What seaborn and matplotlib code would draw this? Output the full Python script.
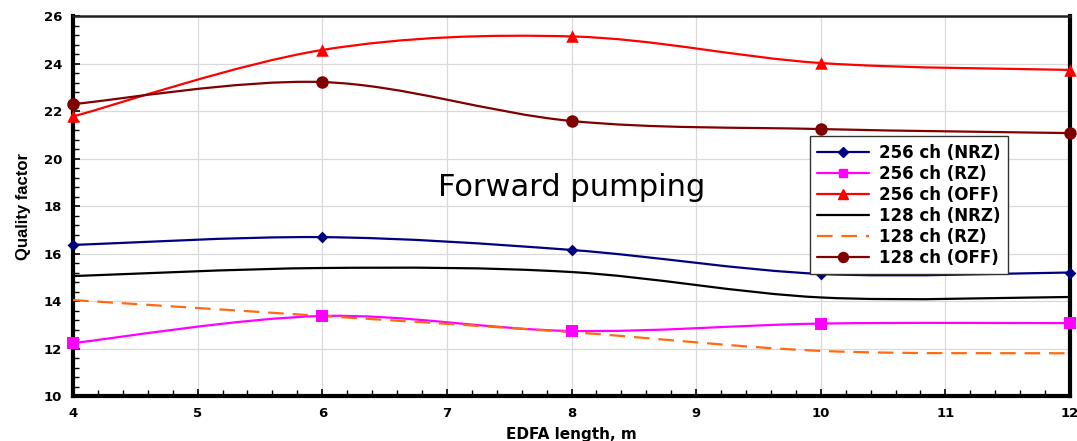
"""
Quality factor vs EDFA length (forward pumping)
Smoothed curves like the original spreadsheet chart
"""

import numpy as np
import matplotlib.pyplot as plt
import seaborn as sns
from matplotlib.path import Path
from matplotlib.patches import PathPatch
from matplotlib.lines import Line2D
from matplotlib.ticker import MultipleLocator

edfa_length = [4, 6, 8, 10, 12]

q_256_nrz = [16.36, 16.69, 16.15, 15.14, 15.2]
q_256_rz = [12.23, 13.37, 12.74, 13.05, 13.07]
q_256_off = [21.77, 24.57, 25.14, 24.02, 23.73]
q_128_nrz = [15.05, 15.39, 15.22, 14.15, 14.17]
q_128_rz = [14.04, 13.37, 12.69, 11.9, 11.8]
q_128_off = [22.29, 23.22, 21.58, 21.24, 21.07]

series_names = ['256 ch (NRZ)', '256 ch (RZ)', '256 ch (OFF)',
                '128 ch (NRZ)', '128 ch (RZ)', '128 ch (OFF)']
series_values = [q_256_nrz, q_256_rz, q_256_off, q_128_nrz, q_128_rz, q_128_off]
series_colors = ['#000080', '#FF00FF', '#FF0000', '#000000', '#FF6A10', '#800000']
series_markers = ['D', 's', '^', None, None, 'o']
series_msize = [6, 8, 9, 0, 0, 9]
series_dash = ['-', '-', '-', '-', (0, (7, 4)), '-']


def smooth_path(xs, ys):
    """Catmull-Rom style bezier path through the points (spreadsheet smoothing)."""
    pts = np.column_stack([xs, ys]).astype(float)
    verts = [pts[0]]
    codes = [Path.MOVETO]
    n = len(pts)
    for i in range(n - 1):
        p0 = pts[max(i - 1, 0)]
        p1 = pts[i]
        p2 = pts[i + 1]
        p3 = pts[min(i + 2, n - 1)]
        c1 = p1 + (p2 - p0) / 6.0
        c2 = p2 - (p3 - p1) / 6.0
        verts += [c1, c2, p2]
        codes += [Path.CURVE4] * 3
    return Path(verts, codes)


sns.set_style("white")
plt.rcParams['font.family'] = ['DejaVu Sans']
plt.rcParams['text.color'] = 'black'
plt.rcParams['axes.labelcolor'] = 'black'
plt.rcParams['xtick.color'] = 'black'
plt.rcParams['ytick.color'] = 'black'

fig = plt.figure(figsize=(10.77, 4.41), dpi=100)
ax = fig.add_axes([0.0678, 0.102, 0.9257, 0.8617])

handles = []
for name, vals, col, mk, ms, ls in zip(series_names, series_values, series_colors,
                                        series_markers, series_msize, series_dash):
    patch = PathPatch(smooth_path(edfa_length, vals), facecolor='none',
                      edgecolor=col, lw=1.6, linestyle=ls, zorder=3,
                      capstyle='butt')
    ax.add_patch(patch)
    if mk is not None:
        sns.scatterplot(x=edfa_length, y=vals, marker=mk, s=ms ** 2, color=col,
                        edgecolor=col, linewidth=0, zorder=4, ax=ax, clip_on=False)
    handles.append(Line2D([], [], color=col, lw=1.6, linestyle=ls,
                          marker=mk if mk else None, markersize=ms * 0.8,
                          markeredgecolor=col, label=name))

ax.set_xlim(4, 12)
ax.set_ylim(10, 26)
ax.xaxis.set_major_locator(MultipleLocator(1))
ax.xaxis.set_minor_locator(MultipleLocator(0.2))
ax.yaxis.set_major_locator(MultipleLocator(2))
ax.yaxis.set_minor_locator(MultipleLocator(0.4))

ax.grid(True, which='major', color='#d9d9d9', lw=0.9, zorder=0)
ax.set_axisbelow(True)

ax.tick_params(axis='both', which='major', direction='in', length=5, width=1.2,
               labelsize=9.5, pad=8, colors='black')
ax.tick_params(axis='both', which='minor', direction='in', length=4, width=1)
ax.tick_params(axis='x', which='both', top=False, bottom=True)
ax.tick_params(axis='y', which='both', left=True, right=False)
for lab in ax.get_xticklabels() + ax.get_yticklabels():
    lab.set_fontweight('bold')

for side in ['left', 'bottom', 'right']:
    ax.spines[side].set_linewidth(3)
    ax.spines[side].set_color('black')
ax.spines['top'].set_linewidth(1.8)
ax.spines['top'].set_color('#222222')

ax.set_xlabel('EDFA length, m', fontsize=11, fontweight='bold', labelpad=5)
ax.set_ylabel('Quality factor', fontsize=12, fontweight='bold',
              family=['Liberation Sans Narrow', 'Liberation Sans'], labelpad=9)

ax.text(0.5, 0.55, 'Forward pumping', transform=ax.transAxes, fontsize=22,
        ha='center', va='center', zorder=5, color='black')

leg = ax.legend(handles=handles, loc='upper left', bbox_to_anchor=(0.739, 0.683),
                prop={'size': 12, 'weight': 'bold'}, handlelength=3.1,
                labelspacing=0.18, borderpad=0.45, handletextpad=0.6,
                frameon=True, fancybox=False, framealpha=1, borderaxespad=0)
leg.get_frame().set_edgecolor('#333333')
leg.get_frame().set_linewidth(1)
leg.set_zorder(6)
for t in leg.get_texts():
    t.set_color('black')

plt.savefig('out.png', dpi=100)
plt.close()
